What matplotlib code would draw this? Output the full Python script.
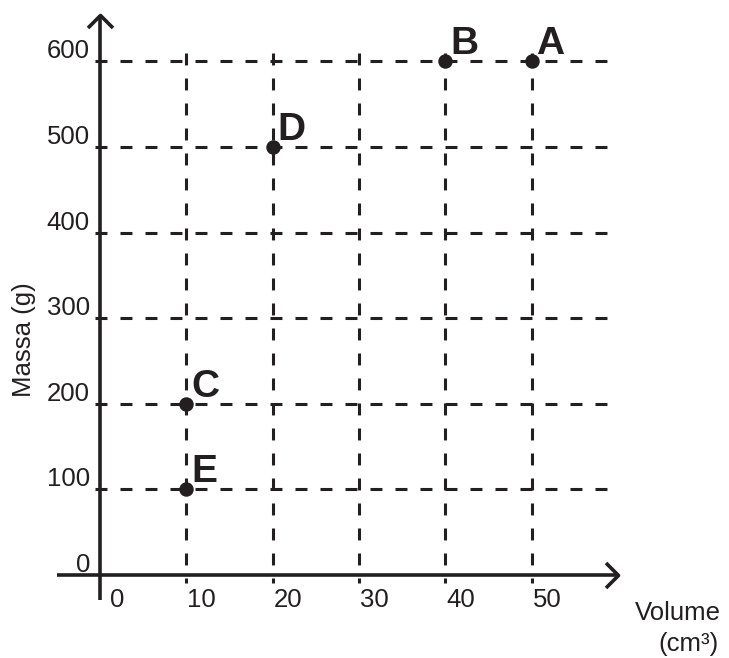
import matplotlib
matplotlib.use('Agg')
import matplotlib.pyplot as plt
from matplotlib.path import Path

plt.rcParams['font.family'] = ['Liberation Sans', 'DejaVu Sans']
plt.rcParams['lines.scale_dashes'] = False

# ---- data ----
point_labels = ['A', 'B', 'C', 'D', 'E']
volumes = [50, 40, 10, 20, 10]
masses = [600, 600, 200, 500, 100]
x_ticks = [0, 10, 20, 30, 40, 50]
y_ticks = [0, 100, 200, 300, 400, 500, 600]
x_label = 'Volume'
x_unit = '(cm³)'
y_label = 'Massa (g)'

C = '#231f20'
W, H, DPI = 729, 658, 100
fig = plt.figure(figsize=(W / DPI, H / DPI), dpi=DPI)
ax = fig.add_axes([0, 0, 1, 1])

# pixel <-> data mapping of the frame
X0, SX = 100, 8.63
Y0, SY = 575, 0.856
ax.set_xlim(-X0 / SX, (W - X0) / SX)
ax.set_ylim((Y0 - H) / SY, Y0 / SY)
ax.axis('off')


def px_x(p):
    return (p - X0) / SX


def px_y(p):
    return (Y0 - p) / SY


dash = (0, (8.6, 9.4))
LW_GRID = 2.2
LW_AX = 2.6

# dashed guide lines
for v in x_ticks[1:]:
    ax.plot([v, v], [px_y(53), px_y(583)], color=C, lw=LW_GRID,
            linestyle=dash, dash_capstyle='butt', zorder=2)
for v in y_ticks[1:]:
    ax.plot([px_x(95), px_x(607)], [v, v], color=C, lw=LW_GRID,
            linestyle=dash, dash_capstyle='butt', zorder=2)

# axes with open arrow heads
ax.plot([px_x(57), px_x(618)], [0, 0], color=C, lw=LW_AX, zorder=3,
        solid_capstyle='butt')
ax.plot([0, 0], [px_y(600), px_y(15)], color=C, lw=LW_AX, zorder=3,
        solid_capstyle='butt')
chev_right = Path([(-1, -1), (0, 0), (-1, 1)],
                  [Path.MOVETO, Path.LINETO, Path.LINETO])
chev_up = Path([(-1, -1), (0, 0), (1, -1)],
               [Path.MOVETO, Path.LINETO, Path.LINETO])
ax.plot([px_x(618)], [0], marker=chev_right, markersize=18, mew=LW_AX,
        mfc='none', mec=C, zorder=3)
ax.plot([0], [px_y(15)], marker=chev_up, markersize=18, mew=LW_AX,
        mfc='none', mec=C, zorder=3)

# tick labels
for v in y_ticks:
    ax.annotate(str(v), (0, v), xytext=(-10, 3), textcoords='offset pixels',
                ha='right', va='baseline', fontsize=18.5, color=C)
for v in x_ticks:
    ax.annotate(str(v), (v, 0), xytext=(10 if v == 0 else 1, -32),
                textcoords='offset pixels', ha='left', va='baseline',
                fontsize=18.5, color=C)

# points
ax.plot(volumes, masses, 'o', ms=9.4, color=C, zorder=5)
for lbl, x, y in zip(point_labels, volumes, masses):
    ax.annotate(lbl, (x, y), xytext=(5, 7), textcoords='offset pixels',
                ha='left', va='baseline', fontsize=28, fontweight='bold',
                color=C)

# axis titles
ax.text(px_x(635), px_y(620), x_label, ha='left', va='baseline',
        fontsize=18.5, color=C)
ax.text(px_x(689), px_y(651), x_unit, ha='center', va='baseline',
        fontsize=18.5, color=C)
ax.text(px_x(24), px_y(340), y_label, rotation=90, ha='center', va='center',
        fontsize=18.5, color=C)

fig.savefig('out.png', dpi=DPI)
